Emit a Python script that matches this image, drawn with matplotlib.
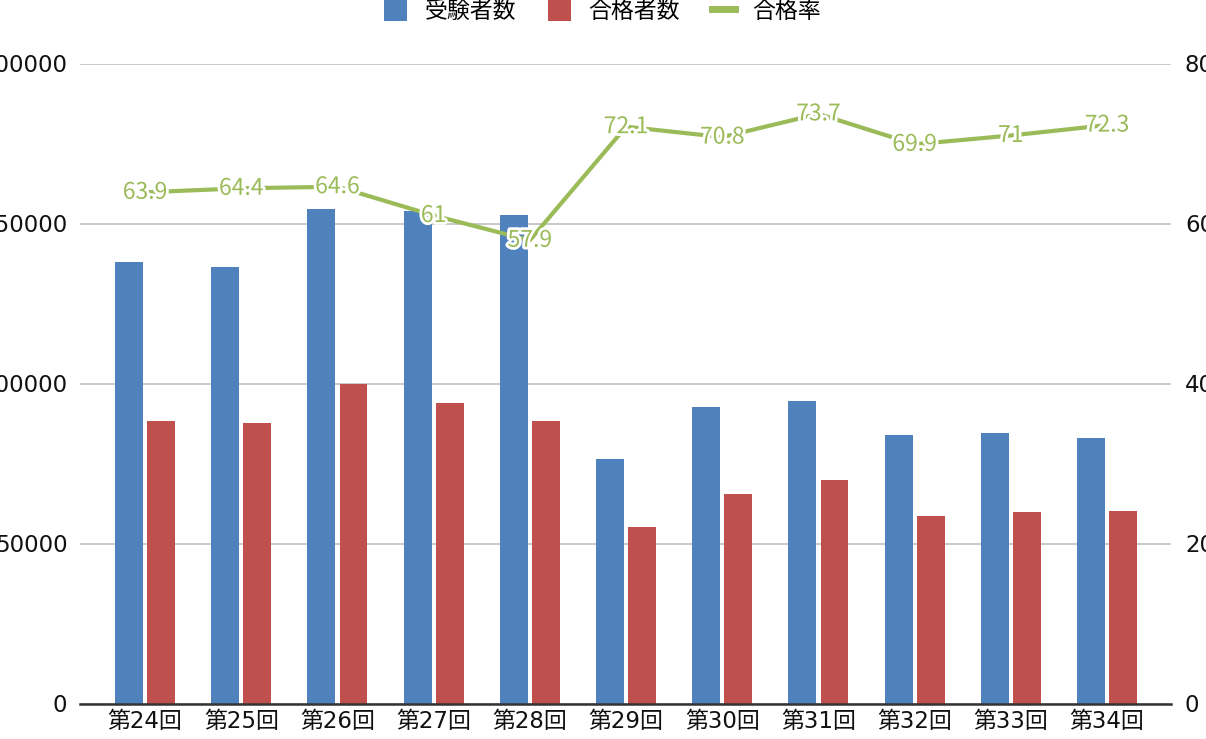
import matplotlib
matplotlib.use("Agg")
import matplotlib.pyplot as plt
import matplotlib.patheffects as pe
from matplotlib.patches import Patch
from matplotlib.lines import Line2D
import numpy as np

plt.rcParams['font.family'] = ['DejaVu Sans', 'Noto Sans CJK JP']

categories = ["第24回", "第25回", "第26回", "第27回", "第28回", "第29回",
              "第30回", "第31回", "第32回", "第33回", "第34回"]
examinees = [137961, 136375, 154390, 153808, 152573, 76323, 92654, 94610, 84032, 84483, 83082]
passers = [88190, 87797, 99689, 93760, 88300, 55031, 65574, 69736, 58745, 59975, 60099]
pass_rate = [63.9, 64.4, 64.6, 61.0, 57.9, 72.1, 70.8, 73.7, 69.9, 71.0, 72.3]
left_ticks = [0, 50000, 100000, 150000, 200000]
right_ticks = [0, 20, 40, 60, 80]
series_names = ["受験者数", "合格者数", "合格率"]

BLUE = "#4F81BD"
RED = "#C0504D"
GREEN = "#9BBB59"
FS = 16.5
CJK = ['Noto Sans CJK JP', 'DejaVu Sans']

fig = plt.figure(figsize=(12.06, 7.39), dpi=100)
ax = fig.add_axes([80/1206, 35.5/739, 1091/1206, 640/739])
ax2 = ax.twinx()

x = np.arange(len(categories))
w = 0.29
off = 0.167
ax.bar(x - off, examinees, width=w, color=BLUE, zorder=2)
ax.bar(x + off, passers, width=w, color=RED, zorder=2)

ax.set_ylim(0, 200000)
ax.set_yticks(left_ticks)
ax.set_yticklabels([str(t) for t in left_ticks])
ax.set_xlim(-0.676, 10.665)
ax.set_xticks(x)
ax.set_xticklabels(categories)
ax.grid(axis='y', color='#C8C8C8', linewidth=1.4, zorder=0)
ax.set_axisbelow(True)
for s in ['top', 'right', 'left']:
    ax.spines[s].set_visible(False)
ax.spines['bottom'].set_color('#333333')
ax.spines['bottom'].set_linewidth(1.8)
ax.tick_params(axis='y', length=0, pad=9, labelsize=FS, colors='#111111')
ax.tick_params(axis='x', length=0, pad=5, labelsize=FS, colors='#111111')

ax2.set_ylim(0, 80)
ax2.set_yticks(right_ticks)
ax2.set_yticklabels([str(t) for t in right_ticks])
ax2.tick_params(axis='y', length=0, pad=10, labelsize=FS, colors='#111111')
for s in ['top', 'right', 'left', 'bottom']:
    ax2.spines[s].set_visible(False)

ax2.plot(x, pass_rate, color=GREEN, linewidth=3, zorder=3, solid_capstyle='butt')
for xi, v in zip(x, pass_rate):
    ax2.text(xi, v, f"{v:g}", ha='center', va='center', color=GREEN, fontsize=FS,
             family=CJK, zorder=4,
             path_effects=[pe.withStroke(linewidth=4, foreground='white')])

handles = [Patch(facecolor=BLUE), Patch(facecolor=RED),
           Line2D([0], [0], color=GREEN, linewidth=5)]
fig.legend(handles, series_names, loc='center', bbox_to_anchor=(0.4996, 0.984),
           ncol=3, frameon=False, prop={'family': CJK, 'size': FS},
           handlelength=1.0, handleheight=1.0,
           handletextpad=0.75, columnspacing=1.4, borderpad=0)

fig.savefig("out.png", dpi=100)
